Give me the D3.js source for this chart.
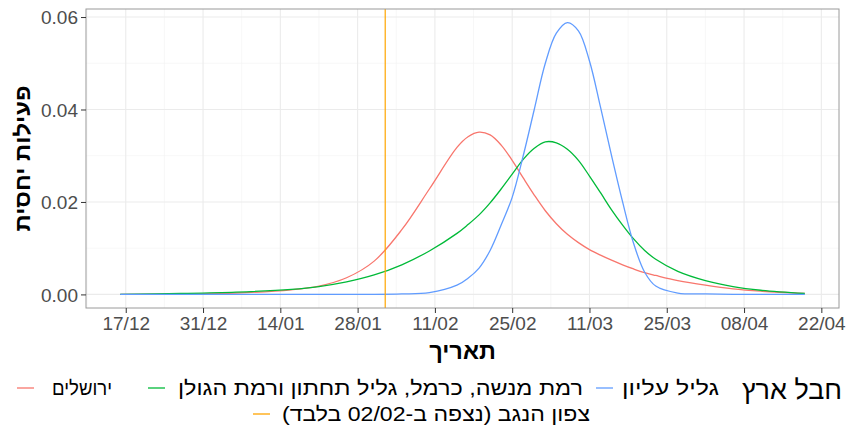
<!DOCTYPE html>
<html><head><meta charset="utf-8">
<script src="https://cdn.jsdelivr.net/npm/d3@7"></script>
<style>body{margin:0;background:#fff}svg{display:block;font-family:"Liberation Sans",Arial,sans-serif}</style>
</head><body><svg id="c" width="849" height="430"></svg>
<script>
const dates = ["2020-12-16","2020-12-27","2021-01-06","2021-01-16","2021-01-21","2021-01-26","2021-01-31","2021-02-05","2021-02-10","2021-02-15","2021-02-17","2021-02-19","2021-02-21","2021-02-23","2021-02-25","2021-02-27","2021-03-01","2021-03-03","2021-03-05","2021-03-07","2021-03-09","2021-03-11","2021-03-13","2021-03-15","2021-03-17","2021-03-19","2021-03-21","2021-03-23","2021-03-27","2021-04-01","2021-04-06","2021-04-11","2021-04-19"];
const jerusalem = [0.0000,0.0001,0.0003,0.0010,0.0018,0.0036,0.0072,0.0140,0.0228,0.0318,0.0341,0.0351,0.0345,0.0323,0.0290,0.0252,0.0215,0.0181,0.0153,0.0130,0.0112,0.0097,0.0085,0.0074,0.0064,0.0055,0.0047,0.0041,0.0030,0.0020,0.0012,0.0007,0.0002];
const ramatMenashe = [0.0000,0.0002,0.0005,0.0011,0.0017,0.0027,0.0042,0.0064,0.0094,0.0132,0.0151,0.0172,0.0198,0.0228,0.0260,0.0292,0.0316,0.0330,0.0328,0.0314,0.0290,0.0256,0.0220,0.0183,0.0150,0.0120,0.0095,0.0076,0.0050,0.0030,0.0017,0.0009,0.0002];
const galilElyon = [0.0000,0.0000,0.0000,0.0000,0.0000,0.0000,0.0000,0.0001,0.0004,0.0020,0.0035,0.0057,0.0095,0.0150,0.0210,0.0300,0.0400,0.0500,0.0565,0.0588,0.0570,0.0505,0.0405,0.0300,0.0200,0.0110,0.0048,0.0018,0.0003,0.0001,0.0000,0.0000,0.0000];
const negevDate = "2021-02-02";
const xTicks = ["2020-12-17","2020-12-31","2021-01-14","2021-01-28","2021-02-11","2021-02-25","2021-03-11","2021-03-25","2021-04-08","2021-04-22"];
const yTicks = [0, 0.02, 0.04, 0.06];
const seriesNames = ["ירושלים","רמת מנשה, כרמל, גליל תחתון ורמת הגולן","גליל עליון","צפון הנגב (נצפה ב-02/02 בלבד)"];
const seriesColors = ["#F8766D","#00BA38","#619CFF","#FFA500"];
const legendTitle = "חבל ארץ";
const xTitle = "תאריך", yTitle = "פעילות יחסית";

const RLM = "\u200F";
const parse = d3.utcParse("%Y-%m-%d");
const svg = d3.select("#c");
const L = 86, R = 839, T = 9, B = 308;
const dd = dates.map(parse);
const x0 = dd[0], x1 = dd[dd.length-1];
const span = x1 - x0;
const x = d3.scaleUtc().domain([new Date(+x0 - 0.05*span), new Date(+x1 + 0.05*span)]).range([L, R]);
const ymax = d3.max([...jerusalem, ...ramatMenashe, ...galilElyon]);
const y = d3.scaleLinear().domain([-0.05*ymax, ymax*1.05]).range([B, T]);

// grid
const g = svg.append("g");
const xt = xTicks.map(parse);
const xMinor = [];
for (let i=0;i<xt.length-1;i++) xMinor.push(new Date((+xt[i] + +xt[i+1])/2));
xMinor.unshift(new Date(+xt[0] - 7*864e5));
const yMinor = [0.01,0.03,0.05];
g.selectAll(".xm").data(xMinor).join("line").attr("x1",d=>x(d)).attr("x2",d=>x(d)).attr("y1",T).attr("y2",B).attr("stroke","#F2F2F2").attr("stroke-width",0.6);
g.selectAll(".ym").data(yMinor).join("line").attr("y1",d=>y(d)).attr("y2",d=>y(d)).attr("x1",L).attr("x2",R).attr("stroke","#F2F2F2").attr("stroke-width",0.6);
g.selectAll(".xM").data(xt).join("line").attr("x1",d=>x(d)).attr("x2",d=>x(d)).attr("y1",T).attr("y2",B).attr("stroke","#EBEBEB").attr("stroke-width",1.1);
g.selectAll(".yM").data(yTicks).join("line").attr("y1",d=>y(d)).attr("y2",d=>y(d)).attr("x1",L).attr("x2",R).attr("stroke","#EBEBEB").attr("stroke-width",1.1);

// lines
const line = d3.line().x((d,i)=>x(dd[i])).y(d=>y(d)).curve(d3.curveCatmullRom.alpha(0.5));
[jerusalem, ramatMenashe, galilElyon].forEach((s,k)=>{
  svg.append("path").datum(s).attr("d",line).attr("fill","none").attr("stroke",seriesColors[k]).attr("stroke-width",1.3);
});
svg.append("line").attr("x1",x(parse(negevDate))).attr("x2",x(parse(negevDate))).attr("y1",T).attr("y2",B).attr("stroke",seriesColors[3]).attr("stroke-width",1.2);

// border
svg.append("rect").attr("x",L).attr("y",T).attr("width",R-L).attr("height",B-T).attr("fill","none").attr("stroke","#9A9A9A").attr("stroke-width",1);

// axes
const xa = svg.append("g").attr("transform",`translate(0,${B})`).call(d3.axisBottom(x).tickValues(xt).tickFormat(d3.utcFormat("%d/%m")).tickSize(5).tickPadding(4));
const ya = svg.append("g").attr("transform",`translate(${L},0)`).call(d3.axisLeft(y).tickValues(yTicks).tickFormat(d3.format(".2f")).tickSize(5).tickPadding(3));
[xa,ya].forEach(a=>{a.select(".domain").remove();a.selectAll(".tick line").attr("stroke","#333");a.selectAll("text").attr("fill","#4D4D4D").attr("font-size",19).attr("font-family","Liberation Sans, Arial, sans-serif");});
ya.selectAll("text").attr("dy","0.36em");

// titles
svg.append("text").attr("x",(L+R)/2).attr("y",359).attr("text-anchor","middle").attr("font-size",23.5).attr("font-weight","bold").attr("fill","#000").text(RLM+xTitle+RLM);
svg.append("text").attr("transform",`translate(30,${(T+B)/2}) rotate(-90)`).attr("text-anchor","middle").attr("font-size",22).attr("font-weight","bold").attr("fill","#000").attr("textLength",146).attr("lengthAdjust","spacingAndGlyphs").text(RLM+yTitle+RLM);

// legend
const lg = svg.append("g");
lg.append("text").attr("x",842).attr("y",399).attr("text-anchor","end").attr("font-size",27).attr("textLength",100).attr("lengthAdjust","spacingAndGlyphs").text(RLM+legendTitle+RLM);
const items = [
  {i:2, right:719, width:97, keyX:596, row:0},
  {i:1, right:583, width:405, keyX:148, row:0},
  {i:0, right:112, width:60, keyX:17, row:0},
  {i:3, right:590, width:308, keyX:253, row:1}
];
items.forEach(it=>{
  const yy = it.row===0 ? 395 : 421;
  lg.append("text").attr("x",it.right).attr("y",yy).attr("text-anchor","end").attr("font-size",20).attr("fill","#000")
    .attr("textLength",it.width).attr("lengthAdjust","spacingAndGlyphs").text(RLM+seriesNames[it.i]+RLM);
  lg.append("line").attr("x1",it.keyX).attr("x2",it.keyX+17).attr("y1",yy-7).attr("y2",yy-7).attr("stroke",seriesColors[it.i]).attr("stroke-width",1.3);
});
</script></body></html>
